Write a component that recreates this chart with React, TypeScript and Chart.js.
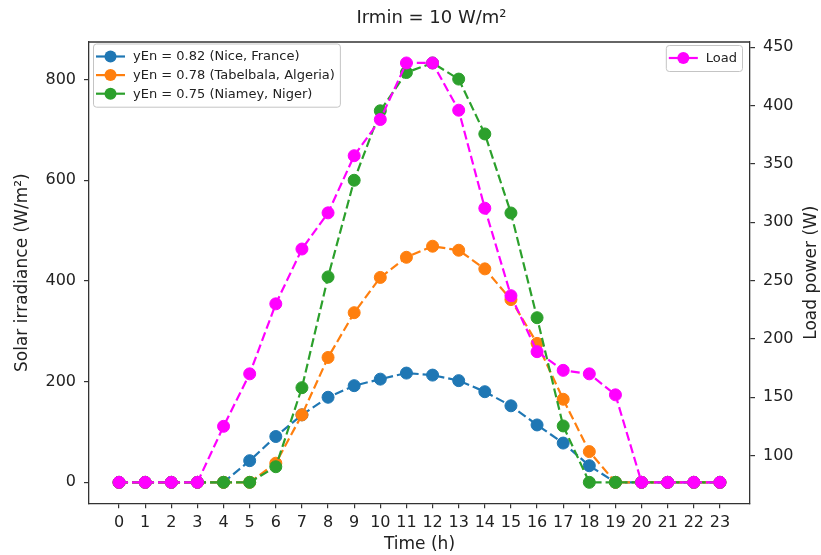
import React, { useEffect, useRef } from "react";
import { Chart, registerables } from "chart.js";

Chart.register(...registerables);

const FONT = '"DejaVu Sans", "Liberation Sans", sans-serif';

const TITLE = "Irmin = 10 W/m²";
const X_TITLE = "Time (h)";
const LEFT_TITLE = "Solar irradiance (W/m²)";
const RIGHT_TITLE = "Load power (W)";

// Hour of day
const HOURS = [0, 1, 2, 3, 4, 5, 6, 7, 8, 9, 10, 11, 12, 13, 14, 15, 16, 17, 18, 19, 20, 21, 22, 23];

// Solar irradiance (W/m²) per site
const NICE = [0, 0, 0, 0, 0, 43, 91, 134, 169, 192, 205, 217, 213, 202, 180, 152, 114, 78, 33, 0, 0, 0, 0, 0];
const TABELBALA = [0, 0, 0, 0, 0, 0, 38, 134, 248, 337, 407, 447, 469, 461, 424, 363, 276, 165, 61, 0, 0, 0, 0, 0];
const NIAMEY = [0, 0, 0, 0, 0, 0, 31, 188, 408, 600, 738, 814, 833, 801, 692, 535, 327, 112, 0, 0, 0, 0, 0, 0];

// Load power (W)
const LOAD = [77, 77, 77, 77, 125, 170, 230, 277, 308, 357, 388, 436.5, 436.5, 396, 312, 237, 189, 173, 170, 152, 77, 77, 77, 77];

const LEFT_TICKS = [0, 200, 400, 600, 800];
const RIGHT_TICKS = [100, 150, 200, 250, 300, 350, 400, 450];

const LABEL_NICE = "yEn = 0.82 (Nice, France)";
const LABEL_TABELBALA = "yEn = 0.78 (Tabelbala, Algeria)";
const LABEL_NIAMEY = "yEn = 0.75 (Niamey, Niger)";
const LABEL_LOAD = "Load";

const BLUE = "#1f77b4";
const ORANGE = "#ff7f0e";
const GREEN = "#2ca02c";
const MAGENTA = "#ff00ff";

const INK = "#222222";
const SPINE = "#333333";

// matplotlib-style 5% margins around the data range
function padded(values: number[]): [number, number] {
  const lo = Math.min(...values);
  const hi = Math.max(...values);
  const m = (hi - lo) * 0.05;
  return [lo - m, hi + m];
}

const X_LIM = padded(HOURS);
const LEFT_LIM = padded([...NICE, ...TABELBALA, ...NIAMEY]);
const RIGHT_LIM = padded(LOAD);

const points = (ys: number[]) => HOURS.map((h, i) => ({ x: h, y: ys[i] }));

function series(label: string, ys: number[], color: string, axis: string, order: number) {
  return {
    label,
    data: points(ys),
    yAxisID: axis,
    order,
    borderColor: color,
    backgroundColor: color,
    pointBackgroundColor: color,
    pointBorderColor: color,
    pointBorderWidth: 1,
    pointRadius: 6,
    pointHoverRadius: 6,
    borderWidth: 2.2,
    borderDash: [9, 4],
    tension: 0,
    fill: false,
  };
}

type LegendItem = { label: string; color: string };

function drawLegend(ctx: CanvasRenderingContext2D, x: number, top: number, anchorRight: boolean, items: LegendItem[]) {
  const fs = 13;
  const rowH = 18.6;
  ctx.font = `${fs}px ${FONT}`;
  const textW = Math.max(...items.map((it) => ctx.measureText(it.label).width));
  const w = 40 + textW + 5;
  const h = (items.length - 1) * rowH + 26;
  const left = anchorRight ? x - w : x;

  ctx.save();
  ctx.beginPath();
  ctx.roundRect(left + 0.5, top + 0.5, w, h, 3);
  ctx.fillStyle = "rgba(255,255,255,0.85)";
  ctx.fill();
  ctx.strokeStyle = "#c4c4c4";
  ctx.lineWidth = 1;
  ctx.stroke();

  items.forEach((it, i) => {
    const cy = top + 13 + i * rowH;
    ctx.strokeStyle = it.color;
    ctx.lineWidth = 2.2;
    ctx.beginPath();
    ctx.moveTo(left + 3, cy);
    ctx.lineTo(left + 32, cy);
    ctx.stroke();
    ctx.beginPath();
    ctx.arc(left + 17.5, cy, 6, 0, Math.PI * 2);
    ctx.fillStyle = it.color;
    ctx.fill();
    ctx.fillStyle = INK;
    ctx.textAlign = "left";
    ctx.textBaseline = "middle";
    ctx.font = `${fs}px ${FONT}`;
    ctx.fillText(it.label, left + 40, cy + 0.5);
  });
  ctx.restore();
}

const overlayPlugin = {
  id: "overlay",
  afterDraw(chart: any) {
    const { ctx, chartArea: ca } = chart;
    ctx.save();

    // top spine
    ctx.strokeStyle = SPINE;
    ctx.lineWidth = 1.3;
    ctx.beginPath();
    ctx.moveTo(ca.left, ca.top);
    ctx.lineTo(ca.right, ca.top);
    ctx.stroke();

    // title
    ctx.fillStyle = INK;
    ctx.textAlign = "center";
    ctx.textBaseline = "middle";
    ctx.font = `18px ${FONT}`;
    ctx.fillText(TITLE, (ca.left + ca.right) / 2 + 12, 18);

    // right axis title, reading upwards
    ctx.save();
    ctx.translate(812, (ca.top + ca.bottom) / 2);
    ctx.rotate(-Math.PI / 2);
    ctx.font = `17px ${FONT}`;
    ctx.fillText(RIGHT_TITLE, 0, 0);
    ctx.restore();
    ctx.restore();

    const ds = chart.data.datasets;
    const find = (lbl: string) => ds.find((d: any) => d.label === lbl);
    drawLegend(ctx, ca.left + 4, ca.top + 1.5, false, [LABEL_NICE, LABEL_TABELBALA, LABEL_NIAMEY].map((l) => ({ label: l, color: find(l).borderColor })));
    drawLegend(ctx, ca.right - 8, ca.top + 3, true, [{ label: LABEL_LOAD, color: find(LABEL_LOAD).borderColor }]);
  },
};

const tickFont = { family: FONT, size: 16 };
const grid = {
  display: true,
  drawOnChartArea: false,
  drawTicks: true,
  tickLength: 5,
  color: SPINE,
  lineWidth: 1.2,
};
const border = { display: true, color: SPINE, width: 1.3 };

export default function App() {
  const canvasRef = useRef<HTMLCanvasElement | null>(null);

  useEffect(() => {
    const canvas = canvasRef.current;
    if (!canvas) return;
    const chart = new Chart(canvas, {
      type: "line",
      data: {
        datasets: [
          series(LABEL_NICE, NICE, BLUE, "y", 3),
          series(LABEL_TABELBALA, TABELBALA, ORANGE, "y", 2),
          series(LABEL_NIAMEY, NIAMEY, GREEN, "y", 1),
          series(LABEL_LOAD, LOAD, MAGENTA, "y1", 0),
        ] as any,
      },
      options: {
        responsive: false,
        animation: false,
        devicePixelRatio: 1,
        events: [],
        layout: { padding: { top: 42, left: 0, right: 0, bottom: 0 } },
        plugins: {
          legend: { display: false },
          title: { display: false },
          tooltip: { enabled: false },
        },
        scales: {
          x: {
            type: "linear",
            min: X_LIM[0],
            max: X_LIM[1],
            afterBuildTicks: (s: any) => {
              s.ticks = HOURS.map((v) => ({ value: v }));
            },
            afterFit: (s: any) => {
              s.height = 51.7;
            },
            ticks: {
              autoSkip: false,
              maxRotation: 0,
              minRotation: 0,
              padding: 5,
              color: INK,
              font: tickFont,
              callback: (v: any) => String(v),
            },
            grid,
            border,
            title: { display: true, text: X_TITLE, color: INK, font: { family: FONT, size: 17 }, padding: { top: 0, bottom: 0 } },
          },
          y: {
            type: "linear",
            position: "left",
            min: LEFT_LIM[0],
            max: LEFT_LIM[1],
            afterBuildTicks: (s: any) => {
              s.ticks = LEFT_TICKS.map((v) => ({ value: v }));
            },
            afterFit: (s: any) => {
              s.width = 89;
            },
            ticks: { padding: 8, color: INK, font: tickFont, callback: (v: any) => String(v) },
            grid,
            border,
            title: { display: true, text: LEFT_TITLE, color: INK, font: { family: FONT, size: 17 }, padding: { top: 12, bottom: 0 } },
          },
          y1: {
            type: "linear",
            position: "right",
            min: RIGHT_LIM[0],
            max: RIGHT_LIM[1],
            afterBuildTicks: (s: any) => {
              s.ticks = RIGHT_TICKS.map((v) => ({ value: v }));
            },
            afterFit: (s: any) => {
              s.width = 71;
            },
            ticks: { padding: 8, color: INK, font: tickFont, callback: (v: any) => String(v) },
            grid,
            border,
            title: { display: false },
          },
        },
      } as any,
      plugins: [overlayPlugin],
    });
    return () => chart.destroy();
  }, []);

  return (
    <div style={{ position: "absolute", left: 0, top: 0, width: 821, height: 555, background: "#ffffff" }}>
      <canvas ref={canvasRef} width={821} height={555} style={{ display: "block" }} />
    </div>
  );
}
